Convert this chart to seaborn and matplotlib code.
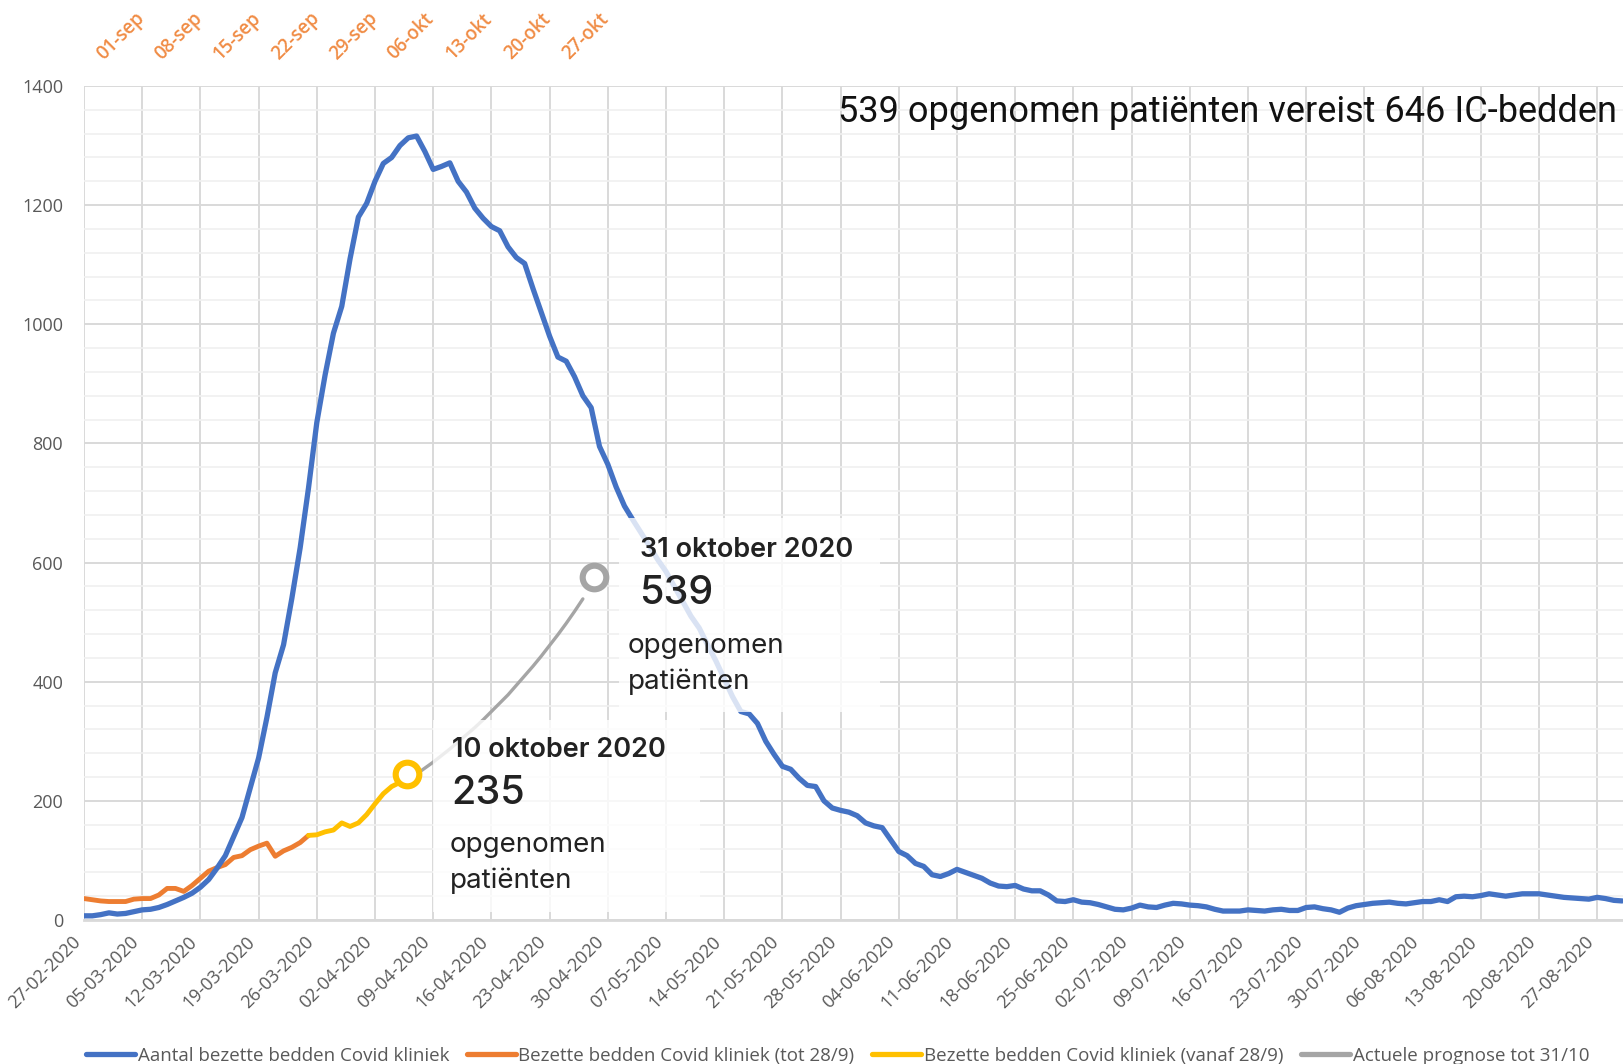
import matplotlib
matplotlib.use("Agg")
import matplotlib.pyplot as plt
import matplotlib.transforms as mtransforms
from matplotlib.patches import Rectangle
from matplotlib.lines import Line2D
import seaborn as sns
import pandas as pd

# ---------------- data ----------------
# first wave: occupied clinical Covid beds, one value per day from 27-02-2020
blue_values = [
    7, 7, 9, 12, 10, 11, 14, 17, 18, 21,
    26, 32, 38, 45, 55, 68, 87, 108, 140, 172,
    222, 272, 340, 415, 462, 540, 625, 725, 835, 915,
    985, 1030, 1110, 1180, 1203, 1240, 1270, 1280, 1300, 1313,
    1316, 1290, 1260, 1265, 1271, 1240, 1222, 1195, 1178, 1164,
    1157, 1130, 1112, 1102, 1060, 1020, 980, 945, 938, 912,
    880, 860, 795, 765, 727, 695, 672, 650, 628, 605,
    585, 560, 535, 510, 490, 462, 435, 405, 375, 350,
    346, 330, 300, 278, 258, 253, 238, 226, 224, 200,
    188, 184, 181, 175, 163, 158, 155, 135, 115, 108,
    95, 90, 76, 73, 78, 85, 80, 75, 70, 62,
    57, 56, 58, 52, 49, 49, 42, 32, 31, 34,
    30, 29, 26, 22, 18, 17, 20, 25, 22, 21,
    25, 28, 27, 25, 24, 22, 18, 15, 15, 15,
    17, 16, 15, 17, 18, 16, 16, 21, 22, 19,
    17, 13, 20, 24, 26, 28, 29, 30, 28, 27,
    29, 31, 31, 34, 31, 39, 40, 39, 41, 44,
    42, 40, 42, 44, 44, 44, 42, 40, 38, 37,
    36, 35, 38, 36, 33, 32,
]
# second wave from 01-09 (day 0) until 28/9 (day 27)
orange_values = [36, 34, 32, 31, 31, 31, 35, 36, 36, 42,
                 53, 53, 48, 58, 70, 82, 88, 93, 105, 108,
                 118, 124, 129, 107, 116, 122, 130, 142]
orange_start = 0
# from 28/9 (day 27) until 10/10 (day 39)
yellow_values = [142, 143, 148, 151, 163, 157, 163, 177, 195, 212, 224, 231, 235]
yellow_start = 27
# prognosis 10/10 (day 39) until 31/10 (day 60)
prognosis_values = [235, 245, 255, 265, 276, 287, 299, 311, 323, 336, 350,
                    364, 378, 394, 410, 426, 443, 461, 479, 498, 518, 539]
prognosis_start = 39

bottom_tick_labels = ["27-02-2020", "05-03-2020", "12-03-2020", "19-03-2020", "26-03-2020",
                      "02-04-2020", "09-04-2020", "16-04-2020", "23-04-2020", "30-04-2020",
                      "07-05-2020", "14-05-2020", "21-05-2020", "28-05-2020", "04-06-2020",
                      "11-06-2020", "18-06-2020", "25-06-2020", "02-07-2020", "09-07-2020",
                      "16-07-2020", "23-07-2020", "30-07-2020", "06-08-2020", "13-08-2020",
                      "20-08-2020", "27-08-2020"]
top_tick_labels = ["01-sep", "08-sep", "15-sep", "22-sep", "29-sep",
                   "06-okt", "13-okt", "20-okt", "27-okt"]
y_ticks = [0, 200, 400, 600, 800, 1000, 1200, 1400]

legend_labels = ["Aantal bezette bedden Covid kliniek",
                 "Bezette bedden Covid kliniek (tot 28/9)",
                 "Bezette bedden Covid kliniek (vanaf 28/9)",
                 "Actuele prognose tot 31/10"]

C_BLUE, C_ORANGE, C_YELLOW, C_GRAY = "#4472C4", "#ED7D31", "#FFC000", "#A5A5A5"

df_blue = pd.DataFrame({"day": range(len(blue_values)), "value": blue_values})
df_orange = pd.DataFrame({"day": range(orange_start, orange_start + len(orange_values)),
                          "value": orange_values})
df_yellow = pd.DataFrame({"day": range(yellow_start, yellow_start + len(yellow_values)),
                          "value": yellow_values})
df_prog = pd.DataFrame({"day": range(prognosis_start, prognosis_start + len(prognosis_values)),
                        "value": prognosis_values})

# ---------------- figure ----------------
sns.set_style("white")
plt.rcParams["font.family"] = ["Open Sans", "DejaVu Sans"]

W, H = 1623, 1064
fig = plt.figure(figsize=(W / 100, H / 100), dpi=100)
ax = fig.add_axes([84 / W, (H - 920) / H, (W - 84) / W, (920 - 86) / H])

def fx(px):
    return px / W

def fy(py):
    return 1 - py / H

sns.lineplot(data=df_prog, x="day", y="value", ax=ax, color=C_GRAY, lw=2.4, zorder=3)
sns.lineplot(data=df_orange, x="day", y="value", ax=ax, color=C_ORANGE, lw=3.5, zorder=4)
sns.lineplot(data=df_yellow, x="day", y="value", ax=ax, color=C_YELLOW, lw=3.5, zorder=4)
sns.lineplot(data=df_blue, x="day", y="value", ax=ax, color=C_BLUE, lw=3.8, zorder=5)

# ring markers at the end of the yellow series and the prognosis
ym = mtransforms.offset_copy(ax.transData, fig=fig, x=-1, y=6, units="dots")
gm = mtransforms.offset_copy(ax.transData, fig=fig, x=11, y=22, units="dots")
ax.plot([df_yellow["day"].iloc[-1]], [df_yellow["value"].iloc[-1]], "o", ms=17,
        mfc="white", mec=C_YELLOW, mew=4.4, transform=ym, zorder=7, clip_on=False)
ax.plot([df_prog["day"].iloc[-1]], [df_prog["value"].iloc[-1]], "o", ms=17,
        mfc="white", mec=C_GRAY, mew=4.4, transform=gm, zorder=7, clip_on=False)

ax.set_xlim(0, (W - 84) / (58.2 / 7))
ax.set_ylim(0, 1400)
ax.set_xlabel("")
ax.set_ylabel("")

tick_days = list(range(0, 7 * len(bottom_tick_labels), 7))
ax.set_xticks(tick_days)
ax.set_xticklabels(bottom_tick_labels, rotation=45, ha="right", fontsize=13, color="#595959")
shift = mtransforms.ScaledTranslation(9 / 100, 0, fig.dpi_scale_trans)
for lab in ax.get_xticklabels():
    lab.set_transform(lab.get_transform() + shift)
ax.set_yticks(y_ticks)
ax.set_yticklabels([str(v) for v in y_ticks], fontsize=13, color="#595959")
ax.set_yticks(list(range(0, 1401, 40)), minor=True)
ax.tick_params(axis="both", which="both", length=0)
ax.tick_params(axis="x", pad=9)
ax.tick_params(axis="y", pad=15)

ax.grid(which="major", color="#D9D9D9", lw=1.4, zorder=0)
ax.grid(which="minor", axis="y", color="#F0F0F0", lw=1.2, zorder=0)
ax.set_axisbelow(True)
for s in ["top", "right", "left"]:
    ax.spines[s].set_visible(False)
ax.spines["bottom"].set_color("#D9D9D9")
ax.spines["bottom"].set_linewidth(2)

# top orange labels (second wave dates)
top_days = tick_days[:len(top_tick_labels)]
ttrans = mtransforms.offset_copy(
    mtransforms.blended_transform_factory(ax.transData, fig.transFigure),
    fig=fig, x=9, y=0, units="dots")
for d, lab in zip(top_days, top_tick_labels):
    ax.text(d, fy(64), lab, transform=ttrans, rotation=45, ha="left", va="bottom",
            fontsize=13.5, fontweight="semibold", color="#F08C45", clip_on=False)

# annotation boxes
fig.add_artist(Rectangle((fx(619), fy(712)), fx(880) - fx(619), fy(518) - fy(712),
                         transform=fig.transFigure, facecolor="white", alpha=0.8,
                         edgecolor="none", zorder=5))
fig.add_artist(Rectangle((fx(433), fy(912)), fx(700) - fx(433), fy(720) - fy(912),
                         transform=fig.transFigure, facecolor="white", alpha=0.8,
                         edgecolor="none", zorder=5))

afam = ["Inter", "DejaVu Sans"]
dark = "#222222"
fig.text(fx(640), fy(550), "31 oktober 2020", ha="left", va="center", fontsize=19.5,
         fontweight="semibold", family=afam, color=dark, zorder=6)
fig.text(fx(639), fy(593), str(prognosis_values[-1]), ha="left", va="center", fontsize=28.5,
         fontweight="medium", family=afam, color=dark, zorder=6)
fig.text(fx(628), fy(664), "opgenomen\npatiënten", ha="left", va="center", fontsize=20,
         family=afam, color=dark, linespacing=1.5, zorder=6)

fig.text(fx(452), fy(750), "10 oktober 2020", ha="left", va="center", fontsize=19.5,
         fontweight="semibold", family=afam, color=dark, zorder=6)
fig.text(fx(451), fy(793), str(yellow_values[-1]), ha="left", va="center", fontsize=28.5,
         fontweight="medium", family=afam, color=dark, zorder=6)
fig.text(fx(450), fy(863), "opgenomen\npatiënten", ha="left", va="center", fontsize=20,
         family=afam, color=dark, linespacing=1.5, zorder=6)

fig.text(fx(838), fy(112), "539 opgenomen patiënten vereist 646 IC-bedden", ha="left",
         va="center", fontsize=26, family=["Roboto", "DejaVu Sans"],
         color="#111111", zorder=6)

# legend
handles = [Line2D([], [], color=c, lw=3.8) for c in (C_BLUE, C_ORANGE, C_YELLOW, C_GRAY)]
leg = fig.legend(handles, legend_labels, loc="center left", bbox_to_anchor=(fx(86), fy(1056)),
                 ncol=4, frameon=False, handlelength=2.6, handletextpad=0.15,
                 columnspacing=0.95, borderpad=0, borderaxespad=0, fontsize=13.5)
for t in leg.get_texts():
    t.set_color("#595959")

fig.savefig("out.png", dpi=100)
